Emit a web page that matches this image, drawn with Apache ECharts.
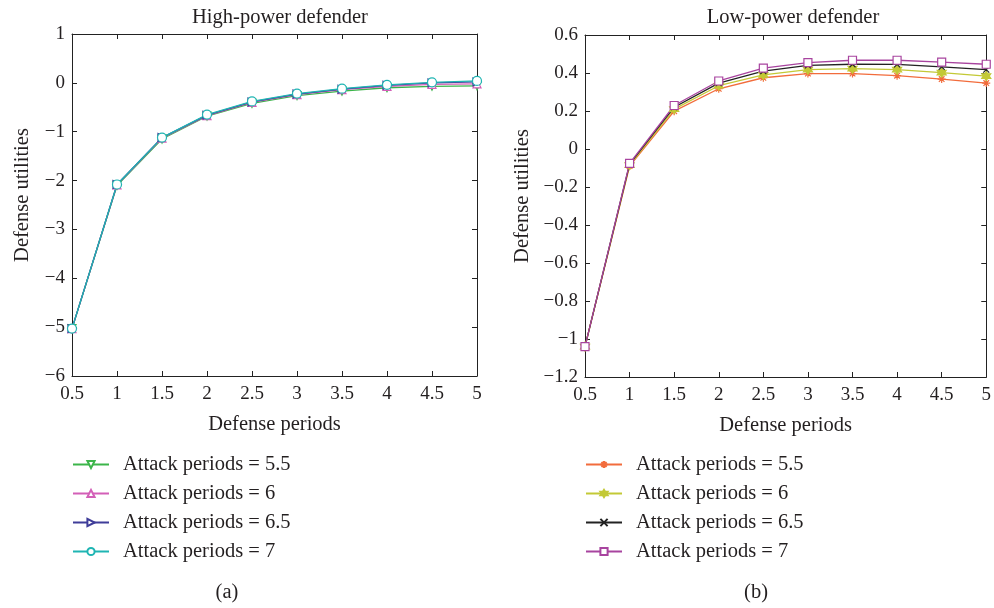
<!DOCTYPE html>
<html>
<head>
<meta charset="utf-8">
<script src="https://cdn.jsdelivr.net/npm/echarts@6/dist/echarts.min.js"></script>
<style>
  html,body{margin:0;padding:0;background:#fff;}
  #chart{width:994px;height:608px;}
</style>
</head>
<body>
<div id="chart"></div>
<script>
/* data */
const periods = [0.5, 1, 1.5, 2, 2.5, 3, 3.5, 4, 4.5, 5];
const attackNames = ["Attack periods = 5.5", "Attack periods = 6", "Attack periods = 6.5", "Attack periods = 7"];

// (a) high-power defender
const high55 = [-5.03, -2.10, -1.15, -0.68, -0.42, -0.26, -0.17, -0.10, -0.07, -0.06];
const high6  = [-5.03, -2.09, -1.13, -0.67, -0.40, -0.24, -0.14, -0.07, -0.03, -0.02];
const high65 = [-5.03, -2.08, -1.12, -0.66, -0.39, -0.23, -0.13, -0.05, 0.00, 0.02];
const high7  = [-5.03, -2.08, -1.12, -0.65, -0.38, -0.22, -0.12, -0.04, 0.01, 0.04];

// (b) low-power defender
const low55 = [-1.04, -0.090, 0.199, 0.317, 0.375, 0.397, 0.397, 0.386, 0.368, 0.347];
const low6  = [-1.04, -0.085, 0.210, 0.333, 0.390, 0.418, 0.423, 0.418, 0.402, 0.384];
const low65 = [-1.04, -0.080, 0.220, 0.347, 0.410, 0.440, 0.446, 0.445, 0.432, 0.418];
const low7  = [-1.04, -0.076, 0.229, 0.358, 0.426, 0.455, 0.467, 0.467, 0.457, 0.446];

const FONT = "'Liberation Serif', 'DejaVu Serif', serif";
const TXT = "#231f20";
const BIG = 20.5, TICK = 19;

const fmt = v => {
	const n = Number(v.toFixed(2));
	return n < 0 ? "\u2212" + Math.abs(n) : String(n);
};

// six point star outline (hexagram)
function hexagram(){
	let pts = [];
	for(let i=0;i<12;i++){
		const r = i%2===0 ? 5 : 2.9;
		const a = Math.PI/2 + i*Math.PI/6;
		pts.push((5+r*Math.cos(a)).toFixed(2)+","+(5-r*Math.sin(a)).toFixed(2));
	}
	return "path://M"+pts.join(" L")+" Z";
}

const markers = {
	asterisk: "path://M5,0 L5,10 M0,5 L10,5 M1.5,1.5 L8.5,8.5 M8.5,1.5 L1.5,8.5",
	cross: "path://M0,0 L10,10 M10,0 L0,10",
	star6: hexagram()
};

const grids = [
	{left:72, top:34, width:405, height:342},
	{left:585, top:35, width:406, height:342}
];

const tickStyle = {inside:true, length:5, lineStyle:{color:"#222"}};

function xAxes(gi){
	return [{
		type:"value", gridIndex:gi, min:0.5, max:5, interval:0.5,
		name:"Defense periods", nameLocation:"middle", nameGap:38,
		nameTextStyle:{fontFamily:FONT, fontSize:BIG, color:TXT},
		axisLine:{onZero:false, lineStyle:{color:"#222", width:1}},
		axisTick:tickStyle,
		axisLabel:{fontFamily:FONT, fontSize:TICK, color:TXT, margin:9, formatter:fmt},
		splitLine:{show:false}
	},{
		type:"value", gridIndex:gi, position:"top", min:0.5, max:5, interval:0.5,
		axisLine:{onZero:false, lineStyle:{color:"#222", width:1}},
		axisTick:tickStyle,
		axisLabel:{show:false}, splitLine:{show:false}
	}];
}

function yAxes(gi, min, max, step, gap){
	return [{
		type:"value", gridIndex:gi, min, max, interval:step,
		name:"Defense utilities", nameLocation:"middle", nameGap:gap,
		nameTextStyle:{fontFamily:FONT, fontSize:BIG, color:TXT, padding:[0,0,0,20]},
		axisLine:{show:true, onZero:false, lineStyle:{color:"#222", width:1}},
		axisTick:Object.assign({show:true}, tickStyle),
		axisLabel:{fontFamily:FONT, fontSize:TICK, color:TXT, margin:7, formatter:fmt},
		splitLine:{show:false}
	},{
		type:"value", gridIndex:gi, position:"right", min, max, interval:step,
		axisLine:{show:true, onZero:false, lineStyle:{color:"#222", width:1}},
		axisTick:Object.assign({show:true}, tickStyle),
		axisLabel:{show:false}, splitLine:{show:false}
	}];
}

function line(id, name, values, color, symbol, opts){
	opts = opts || {};
	return {
		type:"line", name:id+name,
		xAxisIndex: id==="a:" ? 0 : 2,
		yAxisIndex: id==="a:" ? 0 : 2,
		data: periods.map((p,i)=>[p, values[i]]),
		symbol, symbolSize: opts.size || 8, symbolRotate: opts.rotate || 0,
		showAllSymbol:true,
		lineStyle:{color, width:1.3},
		itemStyle:{color: opts.fill || "#fff", borderColor:color, borderWidth:1.2},
		emphasis:{disabled:true},
		animation:false, z: opts.z || 2
	};
}

const series = [
	line("a:", attackNames[0], high55, "#3cb54a", "triangle", {rotate:180}),
	line("a:", attackNames[1], high6,  "#d35fb7", "triangle"),
	line("a:", attackNames[2], high65, "#3f3d99", "triangle", {rotate:-90}),
	line("a:", attackNames[3], high7,  "#1fb5b3", "circle", {size:9}),
	line("b:", attackNames[0], low55, "#f26c3c", markers.asterisk, {fill:"#f26c3c", size:8}),
	line("b:", attackNames[1], low6,  "#c3c936", markers.star6, {fill:"#c3c936", size:9}),
	line("b:", attackNames[2], low65, "#222222", markers.cross, {fill:"transparent", size:6}),
	line("b:", attackNames[3], low7,  "#a8449f", "rect", {size:8})
];

const legendBase = {
	orient:"vertical", itemWidth:36, itemHeight:9, itemGap:8, padding:0,
	textStyle:{fontFamily:FONT, fontSize:BIG, color:TXT, lineHeight:20, padding:[0,0,0,9]},
	formatter: n => n.replace(/^[ab]:/, ""),
	selectedMode:false
};

const titleStyle = {fontFamily:FONT, fontSize:BIG, fontWeight:"normal", color:TXT};

const option = {
	backgroundColor:"#fff",
	animation:false,
	title:[
		{text:"High-power defender", left:275, top:2, textAlign:"center", textStyle:titleStyle},
		{text:"Low-power defender", left:788, top:2, textAlign:"center", textStyle:titleStyle},
		{text:"(a)", left:222, top:577, textAlign:"center", textStyle:titleStyle},
		{text:"(b)", left:751, top:577, textAlign:"center", textStyle:titleStyle}
	],
	legend:[
		Object.assign({left:72, top:454, data:attackNames.map(n=>"a:"+n)}, legendBase),
		Object.assign({left:585, top:454, data:attackNames.map(n=>"b:"+n)}, legendBase)
	],
	grid:grids,
	xAxis:[...xAxes(0), ...xAxes(1)],
	yAxis:[...yAxes(0, -6, 1, 1, 39), ...yAxes(1, -1.2, 0.6, 0.2, 52)],
	series
};

const myChart = echarts.init(document.getElementById("chart"), null, {renderer:"canvas"});
myChart.setOption(option);
</script>
</body>
</html>
